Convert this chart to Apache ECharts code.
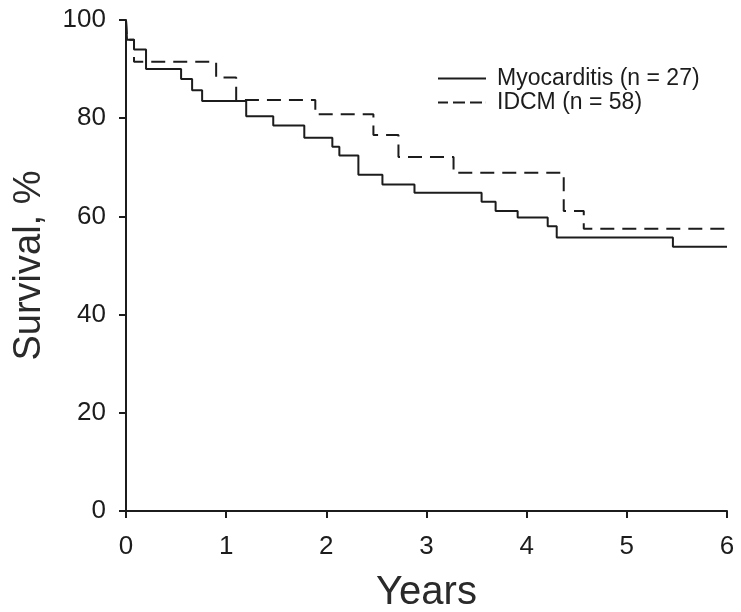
<!DOCTYPE html>
<html lang="en">
<head>
    <meta charset="UTF-8">
    <title>Survival</title>
    <style>
        html, body { margin: 0; padding: 0; background: #fff; }
        #main { width: 741px; height: 612px; }
    </style>
</head>
<body>
<div id="main"></div>
<script src="https://cdn.jsdelivr.net/npm/echarts@6/dist/echarts.min.js"></script>
<script>
    // Kaplan-Meier curves (time in years, survival %)
    var myoTimes = [0, 0.01, 0.08, 0.2, 0.55, 0.66, 0.76, 1.2, 1.47, 1.78, 2.06, 2.13, 2.32, 2.56, 2.88, 3.55, 3.69, 3.91, 4.21, 4.30, 5.46, 6];
    var myoSurv = [100, 96, 94, 90, 88, 85.7, 83.5, 80.4, 78.5, 76, 74.2, 72.4, 68.5, 66.5, 64.8, 63, 61.1, 59.8, 58, 55.7, 53.8, 53.8];

    var idcmTimes = [0, 0.01, 0.08, 0.9, 1.1, 1.89, 2.47, 2.72, 3.27, 4.37, 4.57, 6];
    var idcmSurv = [100, 96, 91.5, 88.3, 83.7, 80.8, 76.6, 72.1, 68.9, 61.1, 57.5, 57.5];

    var seriesNames = ['Myocarditis (n = 27)', 'IDCM (n = 58)'];

    var font = '"Liberation Sans", Arial, Helvetica, sans-serif';
    var ink = '#1c1c1c';

    // legend swatches: plain line and three dashes
    var solidIcon = 'path://M0,0H48V2H0Z';
    var dashIcon = 'path://M0,0H10V2H0Z M15,0H27V2H15Z M32,0H44V2H32Z M47.9,0H48V2H47.9Z';

    function pairs(xs, ys) {
        return xs.map(function (x, i) { return [x, ys[i]]; });
    }

    var chart = echarts.init(document.getElementById('main'));

    var axisCommon = {
        axisLine: { show: true, lineStyle: { color: ink, width: 2 } },
        axisTick: { show: true, inside: false, length: 7, lineStyle: { color: ink, width: 2 } },
        splitLine: { show: false },
        axisLabel: { color: ink, fontSize: 26, fontFamily: font },
        nameTextStyle: { color: '#2a2a2a', fontFamily: font }
    };

    chart.setOption({
        animation: false,
        grid: { left: 126, right: 14, top: 20, bottom: 101, containLabel: false, outerBoundsMode: 'none' },
        legend: {
            orient: 'vertical',
            left: 438,
            top: 67,
            padding: 0,
            itemWidth: 48,
            itemHeight: 2,
            itemGap: 1,
            data: [
                { name: seriesNames[0], icon: solidIcon },
                { name: seriesNames[1], icon: dashIcon }
            ],
            itemStyle: { color: ink, borderWidth: 0 },
            textStyle: { color: ink, fontSize: 23, fontFamily: font, padding: [0, 0, 0, 6] }
        },
        xAxis: Object.assign({}, axisCommon, {
            type: 'value',
            min: 0, max: 6, interval: 1,
            name: 'Years',
            nameLocation: 'middle',
            nameGap: 62,
            nameTextStyle: { color: '#2a2a2a', fontFamily: font, fontSize: 40 },
            axisLabel: { color: ink, fontSize: 26, fontFamily: font, margin: 23 }
        }),
        yAxis: Object.assign({}, axisCommon, {
            type: 'value',
            min: 0, max: 100, interval: 20,
            name: 'Survival, %',
            nameLocation: 'middle',
            nameGap: 77,
            nameTextStyle: { color: '#2a2a2a', fontFamily: font, fontSize: 38 },
            axisLabel: { color: ink, fontSize: 26, fontFamily: font, margin: 20 }
        }),
        series: [
            {
                name: seriesNames[0],
                type: 'line',
                step: 'end',
                symbol: 'none',
                lineStyle: { color: ink, width: 2 },
                itemStyle: { color: ink },
                data: pairs(myoTimes, myoSurv)
            },
            {
                name: seriesNames[1],
                type: 'line',
                step: 'end',
                symbol: 'none',
                lineStyle: { color: ink, width: 2, type: [14, 8] },
                itemStyle: { color: ink },
                data: pairs(idcmTimes, idcmSurv)
            }
        ]
    });
</script>
</body>
</html>
